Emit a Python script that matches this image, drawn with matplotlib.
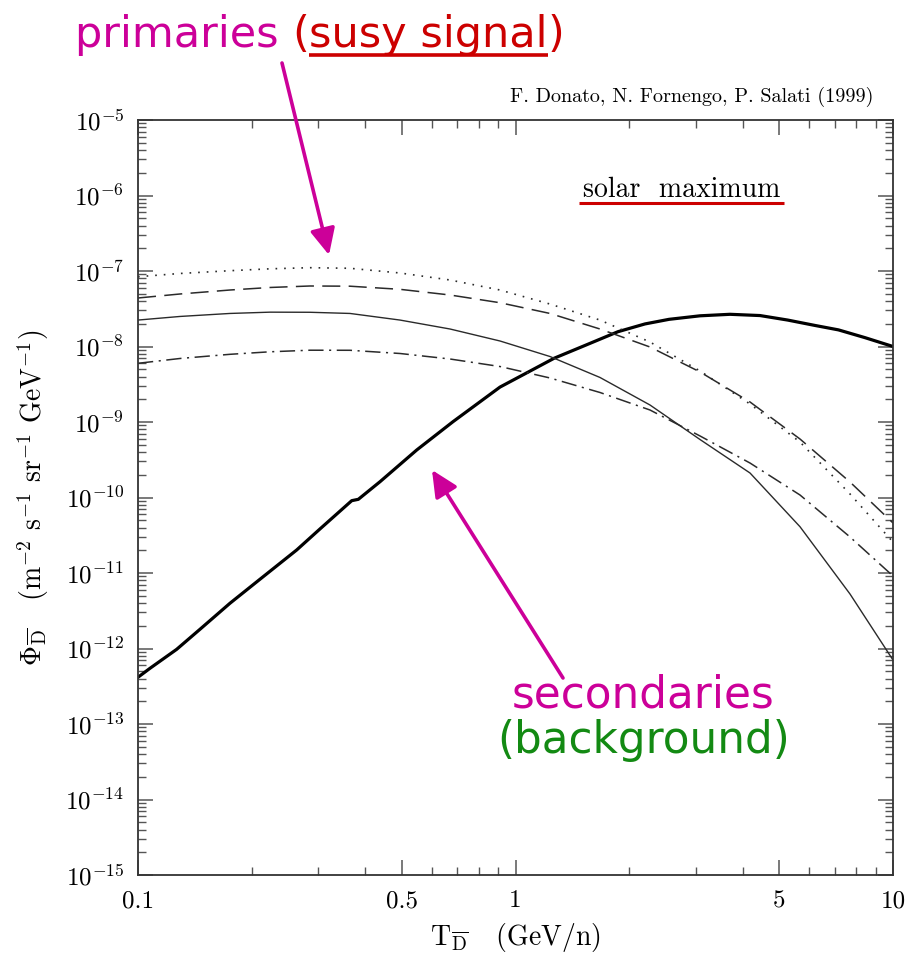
import numpy as np
import matplotlib
matplotlib.use("Agg")
import matplotlib.pyplot as plt
from matplotlib.ticker import LogLocator, NullFormatter, FixedLocator
from matplotlib.lines import Line2D

plt.rcParams['mathtext.fontset'] = 'cm'
plt.rcParams['lines.scale_dashes'] = False
plt.rcParams['axes.unicode_minus'] = False

# antideuteron flux at solar maximum, T in GeV/n, flux in m^-2 s^-1 sr^-1 GeV^-1
# secondary (background) flux
T_sec = [0.1, 0.1076, 0.1266, 0.146, 0.1752, 0.2104, 0.2633, 0.3034, 0.3683,
         0.3834, 0.4377, 0.5475, 0.6831, 0.9097, 1.073, 1.265, 1.538, 1.868,
         2.203, 2.551, 3.082, 3.70, 4.443, 5.26, 6.215, 7.17, 8.429, 10.0]
phi_sec = [4.16e-13, 5.47e-13, 9.75e-13, 1.80e-12, 3.97e-12, 8.26e-12, 2.02e-11,
           3.83e-11, 9.08e-11, 9.46e-11, 1.62e-10, 4.26e-10, 1.01e-9, 2.9e-9,
           4.5e-9, 6.98e-9, 1.047e-8, 1.57e-8, 1.99e-8, 2.29e-8, 2.55e-8,
           2.67e-8, 2.57e-8, 2.24e-8, 1.90e-8, 1.66e-8, 1.31e-8, 1.0e-8]

# primary (susy) fluxes, shared energy grid
T_prim = [0.1, 0.1292, 0.1752, 0.2237, 0.2855, 0.3644, 0.4943, 0.6707, 0.9097,
          1.234, 1.674, 2.271, 3.082, 4.181, 5.671, 7.693, 10.0]
phi_dot = [8.40e-8, 9.27e-8, 1.009e-7, 1.069e-7, 1.106e-7, 1.086e-7, 9.41e-8,
           7.60e-8, 5.60e-8, 3.65e-8, 2.24e-8, 1.147e-8, 4.74e-9, 1.73e-9,
           5.43e-10, 1.113e-10, 2.57e-11]
phi_dash = [4.39e-8, 4.96e-8, 5.60e-8, 6.05e-8, 6.33e-8, 6.29e-8, 5.72e-8,
            4.81e-8, 3.80e-8, 2.74e-8, 1.705e-8, 9.85e-9, 4.60e-9, 1.84e-9,
            5.95e-10, 1.604e-10, 4.60e-11]
phi_sol = [2.24e-8, 2.50e-8, 2.74e-8, 2.85e-8, 2.84e-8, 2.74e-8, 2.24e-8,
           1.705e-8, 1.183e-8, 7.37e-9, 3.89e-9, 1.68e-9, 5.86e-10, 2.11e-10,
           4.10e-11, 5.27e-12, 7.04e-13]
phi_dd = [5.99e-9, 6.94e-9, 7.88e-9, 8.51e-9, 8.93e-9, 8.91e-9, 8.08e-9,
          6.83e-9, 5.43e-9, 3.83e-9, 2.46e-9, 1.442e-9, 6.53e-10, 2.86e-10,
          1.079e-10, 3.00e-11, 9.13e-12]

x_major = [0.1, 0.5, 1, 5, 10]
x_major_lbl = ['0.1', '0.5', '1', '5', '10']
x_minor = [0.2, 0.3, 0.4, 0.6, 0.7, 0.8, 0.9, 2, 3, 4, 6, 7, 8, 9]
y_exp = list(range(-15, -4))

W, H = 907, 956
mag = '#cc0099'
red = '#cc0000'
green = '#138a13'


def fp(px, py):
    # pixel (from top-left) -> figure fraction
    return px / W, 1 - py / H


fig = plt.figure(figsize=(W / 100, H / 100), dpi=100)
ax = fig.add_axes([138 / W, 1 - 875 / H, 755 / W, 755 / H])
ax.set_xscale('log')
ax.set_yscale('log')

ax.plot(T_sec, phi_sec, color='black', lw=2.3, solid_joinstyle='round')
ax.plot(T_prim, phi_sol, color='#2a2a2a', lw=1.0)
ax.plot(T_prim, phi_dot, color='#2a2a2a', lw=1.2, linestyle=(0, (1.2, 5.0)))
ax.plot(T_prim, phi_dash, color='#2a2a2a', lw=1.1, linestyle=(0, (13, 6)))
ax.plot(T_prim, phi_dd, color='#2a2a2a', lw=1.1, linestyle=(0, (11, 4, 1.5, 4)))

ax.set_xlim(0.1, 10)
ax.set_ylim(1e-15, 1e-5)

ax.set_xticks(x_major)
ax.set_xticklabels(x_major_lbl, fontfamily='cmr10', fontsize=18)
ax.xaxis.set_minor_locator(FixedLocator(x_minor))
ax.xaxis.set_minor_formatter(NullFormatter())
ax.set_yticks([10.0 ** e for e in y_exp])
ax.set_yticklabels([r'$10^{%d}$' % e for e in y_exp], fontsize=18)
ax.yaxis.set_minor_locator(LogLocator(base=10, subs=range(2, 10), numticks=30))
ax.yaxis.set_minor_formatter(NullFormatter())

ax.tick_params(which='both', direction='in', top=True, right=True, color='#555555')
ax.tick_params(which='major', length=11, width=1.1)
ax.tick_params(which='minor', length=5.5, width=1.0)
ax.tick_params(axis='x', which='major', pad=11)
ax.tick_params(axis='y', which='major', pad=10)
for s in ax.spines.values():
    s.set_color('#333333')
    s.set_linewidth(1.3)

ax.set_xlabel(r'T$_{\overline{\rm D}}$   (GeV/n)', fontfamily='cmr10', fontsize=20)
ax.xaxis.set_label_coords(0.5, (875 - 938) / 755)
ax.xaxis.label.set_va('center')
ax.set_ylabel(r'$\Phi_{\overline{\rm D}}$   (m$^{-2}$ s$^{-1}$ sr$^{-1}$ GeV$^{-1}$)',
              fontfamily='cmr10', fontsize=20)
ax.yaxis.set_label_coords((33 - 138) / 755, 0.5)
ax.yaxis.label.set_va('center')

fig.text(*fp(873, 102), 'F. Donato, N. Fornengo, P. Salati (1999)',
         ha='right', va='baseline', fontfamily='cmr10', fontsize=14.5)

renderer = fig.canvas.get_renderer()


def underline(t, py, lw, pad=0):
    bb = t.get_window_extent(renderer=renderer)
    x0, _ = fp(bb.x0 - pad, 0)
    x1, _ = fp(bb.x1 + pad, 0)
    _, y = fp(0, py)
    fig.add_artist(Line2D([x0, x1], [y, y], color=red, lw=lw,
                          transform=fig.transFigure, solid_capstyle='butt'))


solar = fig.text(*fp(583, 197), 'solar  maximum', va='baseline',
                 fontfamily='cmr10', fontsize=20)
underline(solar, 203, 2.2, pad=4)

# headline: "primaries (susy signal)" with the signal part underlined
x = 75
parts = [('primaries ', mag), ('(', red), ('susy signal', red), (')', red)]
for s, c in parts:
    t = fig.text(*fp(x, 47), s, color=c, fontsize=31, va='baseline',
                 fontfamily='DejaVu Sans')
    bb = t.get_window_extent(renderer=renderer)
    x = bb.x1
    if s == 'susy signal':
        underline(t, 55, 2.6)

fig.text(*fp(643, 707), 'secondaries', color=mag, fontsize=31.5, ha='center',
         va='baseline', fontfamily='DejaVu Sans')
fig.text(*fp(644, 753), '(background)', color=green, fontsize=31.5, ha='center',
         va='baseline', fontfamily='DejaVu Sans')

arrow = dict(arrowstyle='-|>,head_length=0.8,head_width=0.38', color=mag, lw=2.6,
             mutation_scale=20, shrinkA=0, shrinkB=0)
ax.annotate('', xy=fp(329, 255), xycoords='figure fraction',
            xytext=fp(282, 63), textcoords='figure fraction', arrowprops=arrow)
ax.annotate('', xy=fp(432, 470), xycoords='figure fraction',
            xytext=fp(563, 678), textcoords='figure fraction', arrowprops=arrow)

fig.savefig('out.png', dpi=100)
